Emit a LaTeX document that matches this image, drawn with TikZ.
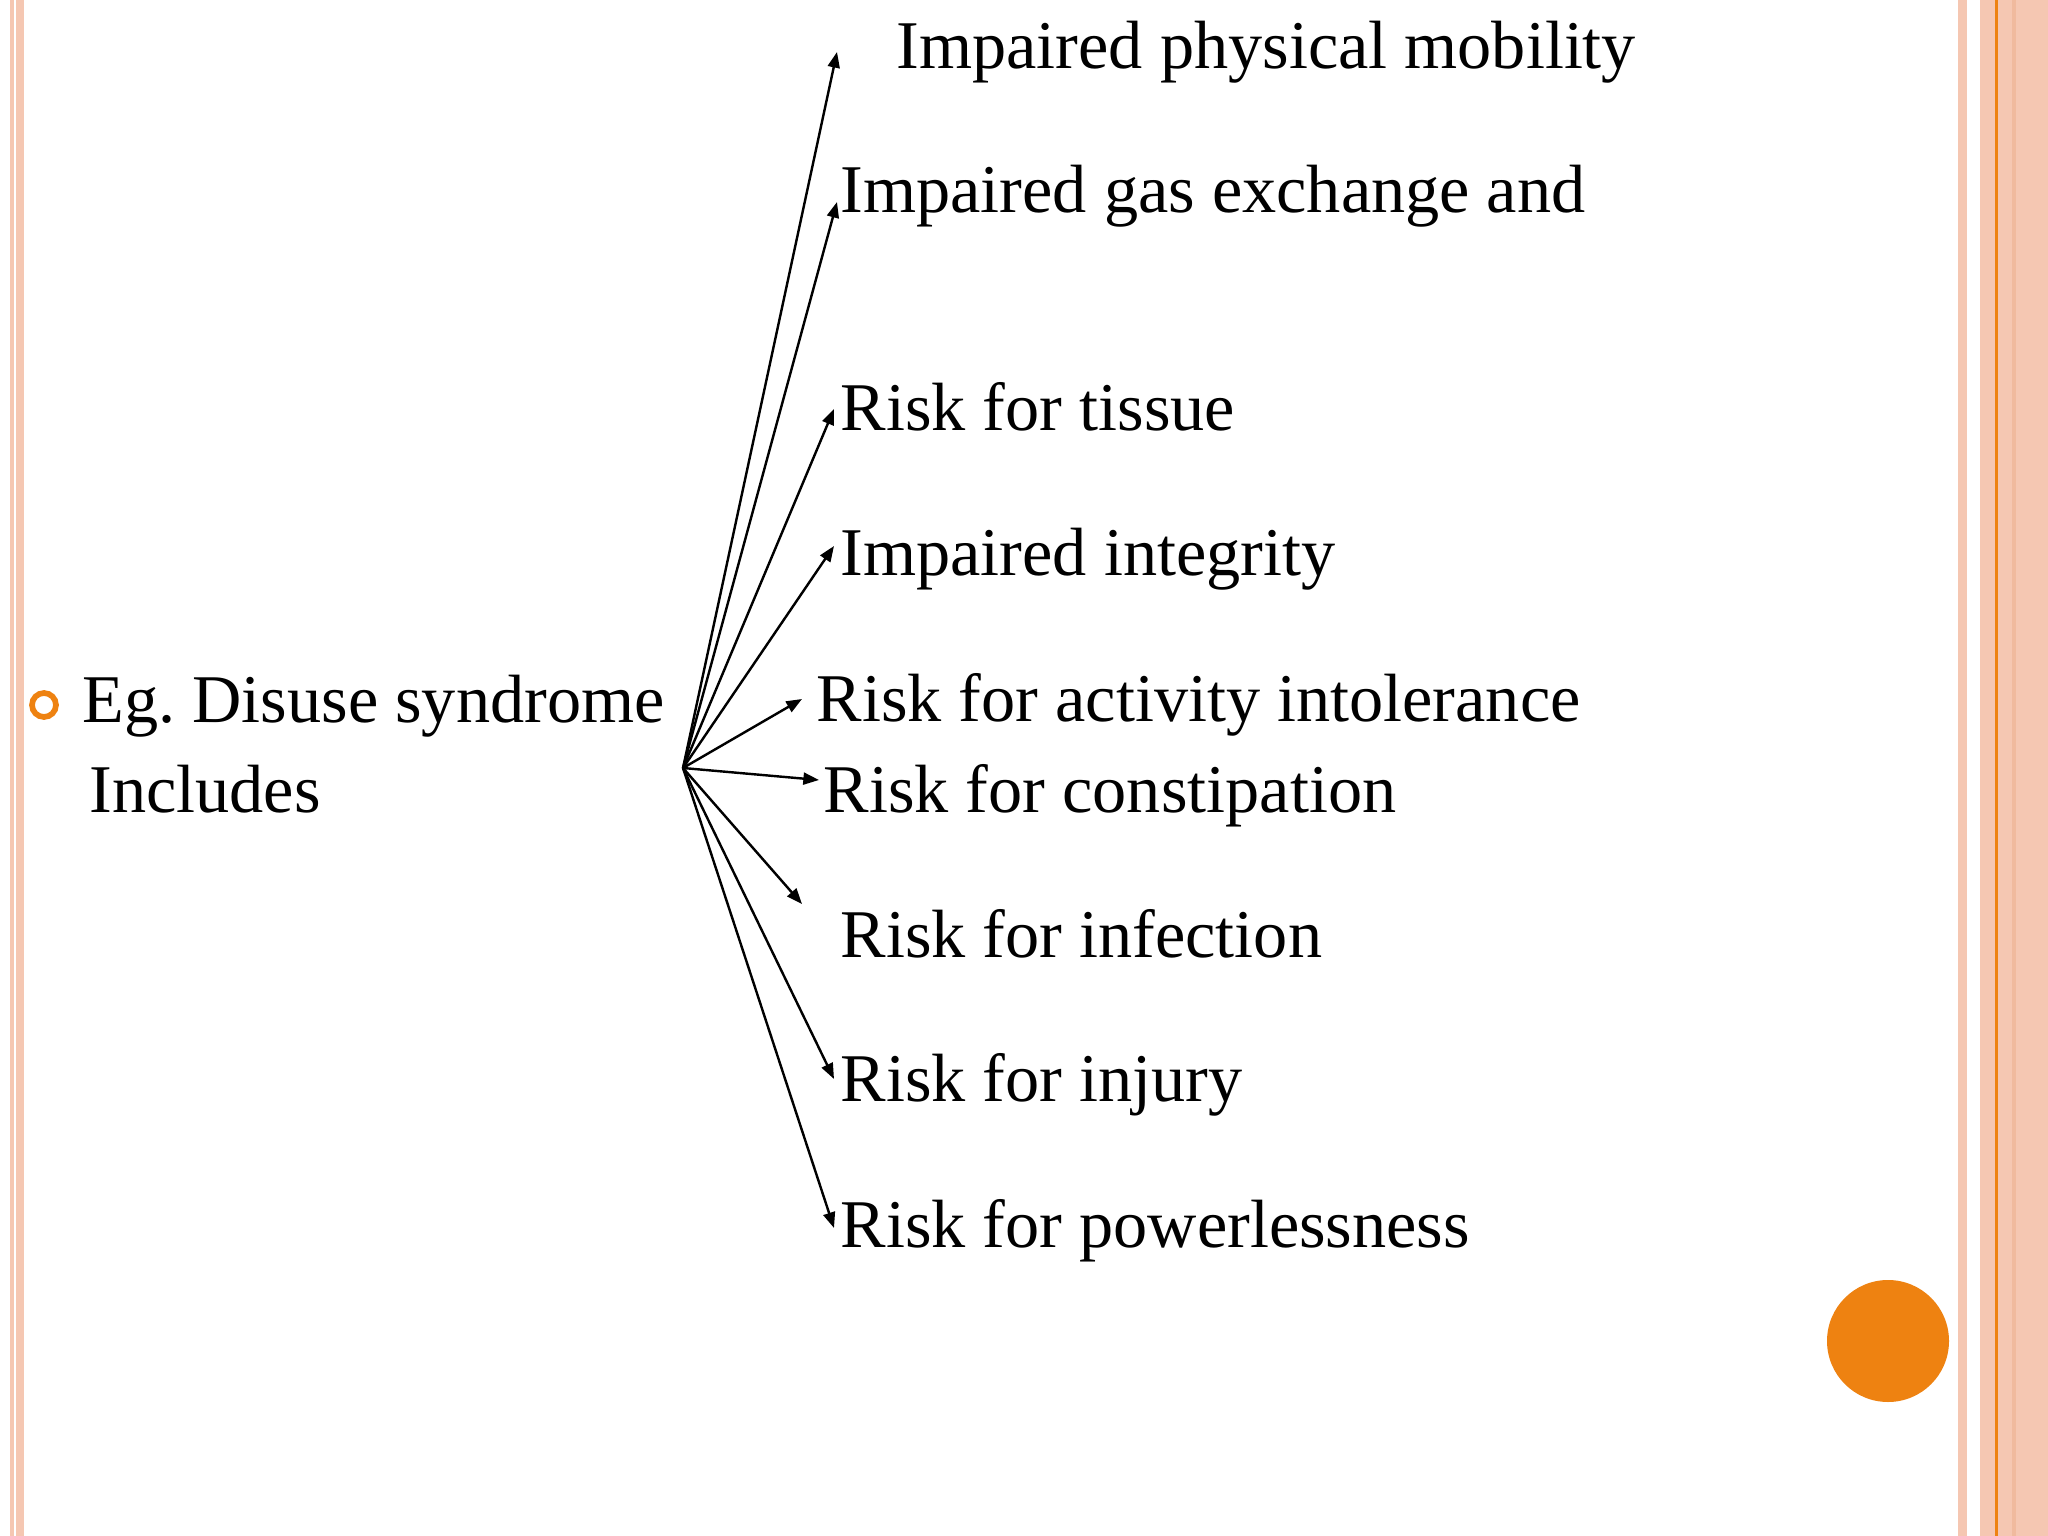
\documentclass[tikz,border=0pt]{standalone}
\usepackage{fontspec}
\setmainfont{Liberation Serif}
\usetikzlibrary{arrows.meta}
\frenchspacing

\definecolor{framepink}{HTML}{F5C7B2}
\definecolor{framedark}{HTML}{F0BA9E}
\definecolor{slideorange}{HTML}{EE8211}

\begin{document}
\begin{tikzpicture}[x=0.3515625pt, y=-0.3515625pt,
  item/.style={anchor=base west, inner sep=0pt, font=\fontsize{24}{28}\selectfont},
  link/.style={-{Triangle[length=5.5pt, width=4.2pt]}, line width=0.85pt}]
% page and frame
\fill[white] (0,0) rectangle (2048,1536);
\fill[framepink] (10,0) rectangle (14,1536);
\fill[framepink] (16,0) rectangle (24,1536);
\fill[framepink] (1958,0) rectangle (1967,1536);
\fill[framepink] (1980,0) rectangle (2048,1536);
\fill[framedark] (2012,0) rectangle (2016,1536);
\fill[slideorange] (1995,0) rectangle (1998,1536);
\fill[slideorange] (1888,1341) circle (61);

% bullet
\draw[slideorange, line width=2pt] (44,705) circle (12);
\node[item] (disuse) at (82,722) {Eg. Disuse syndrome};
\node[item] (includes) at (89,812) {Includes};

% diagnoses
\node[item] (mobility) at (896,69) {Impaired physical mobility};
\node[item] (gas) at (840,213) {Impaired gas exchange and};
\node[item] (tissue) at (840,431) {Risk for tissue};
\node[item] (integrity) at (840,576) {Impaired integrity};
\node[item] (activity) at (816,721) {Risk for activity intolerance};
\node[item] (constipation) at (823,812) {Risk for constipation};
\node[item] (infection) at (840,957) {Risk for infection};
\node[item] (injury) at (840,1101) {Risk for injury};
\node[item] (powerless) at (840,1247) {Risk for powerlessness};

% arrows
\coordinate (hub) at (683,768);
\coordinate (tipmobility) at (837,52);
\coordinate (tipgas) at (837,202);
\coordinate (tiptissue) at (834,409);
\coordinate (tipintegrity) at (834,546);
\coordinate (tipactivity) at (802,699);
\coordinate (tipconstipation) at (819,780);
\coordinate (tipinfection) at (802,904);
\coordinate (tipinjury) at (834,1079);
\coordinate (tippowerless) at (834,1228);
\foreach \t in {mobility,gas,tissue,integrity,activity,constipation,infection,injury,powerless}
  \draw[link] (hub) -- (tip\t);
\end{tikzpicture}
\end{document}
